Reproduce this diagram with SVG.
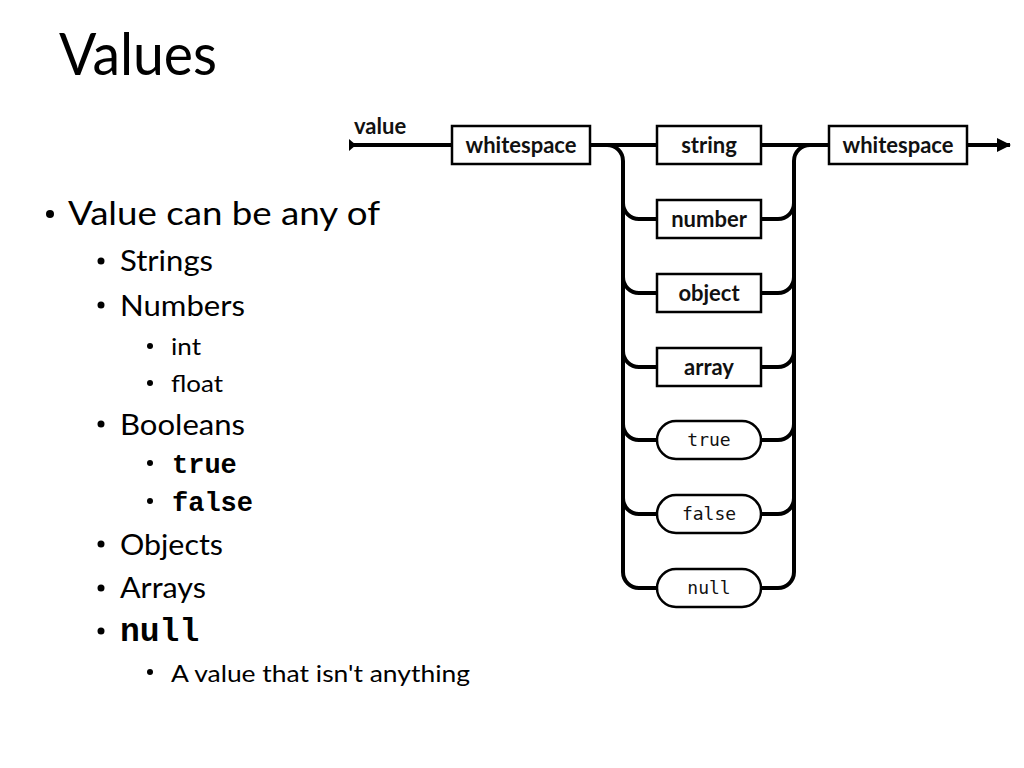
<svg xmlns="http://www.w3.org/2000/svg" width="1024" height="768" viewBox="0 0 1024 768">
<defs>
<marker id="arr" markerWidth="14" markerHeight="16" refX="13" refY="8" orient="auto" markerUnits="userSpaceOnUse">
<path d="M0,1 L14,8 L0,15 Z" fill="#000"/>
</marker>
<style>
.t{font-family:Lato,"Open Sans","Liberation Sans",sans-serif;fill:#000}
.m{font-family:"Liberation Mono","Courier New",monospace;font-weight:bold;fill:#000}
.box{fill:#fff;stroke:#000;stroke-width:2.5}
.lbl{font-family:Lato,"Open Sans",sans-serif;font-weight:bold;font-size:22px;fill:#111;text-anchor:middle}
.mono{font-family:"DejaVu Sans Mono",monospace;font-size:18px;fill:#111;text-anchor:middle}
.w{fill:none;stroke:#000;stroke-width:4}
</style>
</defs>
<rect width="1024" height="768" fill="#fff"/>
<text class="t" x="59" y="75" font-size="58" textLength="158" lengthAdjust="spacingAndGlyphs">Values</text>
<g id="bullets">
<circle cx="50" cy="214" r="4"/>
<circle cx="101" cy="261" r="3.5"/>
<circle cx="101" cy="305" r="3.5"/>
<circle cx="150" cy="346" r="3"/>
<circle cx="150" cy="383" r="3"/>
<circle cx="101" cy="424" r="3.5"/>
<circle cx="150" cy="463" r="3"/>
<circle cx="150" cy="501" r="3"/>
<circle cx="101" cy="544" r="3.5"/>
<circle cx="101" cy="588" r="3.5"/>
<circle cx="101" cy="631" r="3.5"/>
<circle cx="150" cy="672" r="3"/>
<text class="t" x="68" y="225" font-size="32" textLength="312" lengthAdjust="spacingAndGlyphs">Value can be any of</text>
<text class="t" x="120" y="271" font-size="28" textLength="93" lengthAdjust="spacingAndGlyphs">Strings</text>
<text class="t" x="120" y="316" font-size="28" textLength="125" lengthAdjust="spacingAndGlyphs">Numbers</text>
<text class="t" x="171" y="355" font-size="24" textLength="30" lengthAdjust="spacingAndGlyphs">int</text>
<text class="t" x="171" y="392" font-size="24" textLength="52" lengthAdjust="spacingAndGlyphs">float</text>
<text class="t" x="120" y="435" font-size="28" textLength="125" lengthAdjust="spacingAndGlyphs">Booleans</text>
<text class="m" x="172" y="473" font-size="27">true</text>
<text class="m" x="172" y="511" font-size="27">false</text>
<text class="t" x="120" y="555" font-size="28" textLength="103" lengthAdjust="spacingAndGlyphs">Objects</text>
<text class="t" x="120" y="598" font-size="28" textLength="86" lengthAdjust="spacingAndGlyphs">Arrays</text>
<text class="m" x="120" y="641" font-size="33">null</text>
<text class="t" x="171" y="682" font-size="24" textLength="299" lengthAdjust="spacingAndGlyphs">A value that isn't anything</text>
</g>
<g id="connectors">
<polygon points="349,139 356,145 349,151" fill="#000"/>
<path class="w" d="M350 145 H452"/>
<path class="w" d="M590 145 H657"/>
<path class="w" d="M761 145 H829"/>
<path class="w" d="M967 145 H1010" marker-end="url(#arr)"/>
<path class="w" d="M607 145 A16 16 0 0 1 623 161 V572 A16 16 0 0 0 639 588 H657"/>
<path class="w" d="M623 203 A16 16 0 0 0 639 219 H657"/>
<path class="w" d="M623 277 A16 16 0 0 0 639 293 H657"/>
<path class="w" d="M623 351 A16 16 0 0 0 639 367 H657"/>
<path class="w" d="M623 424 A16 16 0 0 0 639 440 H657"/>
<path class="w" d="M623 498 A16 16 0 0 0 639 514 H657"/>
<path class="w" d="M761 588 H778 A16 16 0 0 0 794 572 V161 A16 16 0 0 1 810 145"/>
<path class="w" d="M761 219 H778 A16 16 0 0 0 794 203"/>
<path class="w" d="M761 293 H778 A16 16 0 0 0 794 277"/>
<path class="w" d="M761 367 H778 A16 16 0 0 0 794 351"/>
<path class="w" d="M761 440 H778 A16 16 0 0 0 794 424"/>
<path class="w" d="M761 514 H778 A16 16 0 0 0 794 498"/>
</g>
<text class="lbl" x="354" y="134" style="text-anchor:start" font-size="20">value</text>
<g id="ws1"><rect class="box" x="452" y="126" width="138" height="38"/><text class="lbl" x="521" y="153">whitespace</text></g>
<g id="string"><rect class="box" x="657" y="126" width="104" height="38"/><text class="lbl" x="709" y="153">string</text></g>
<g id="number"><rect class="box" x="657" y="200" width="104" height="38"/><text class="lbl" x="709" y="227">number</text></g>
<g id="object"><rect class="box" x="657" y="274" width="104" height="38"/><text class="lbl" x="709" y="301">object</text></g>
<g id="array"><rect class="box" x="657" y="348" width="104" height="38"/><text class="lbl" x="709" y="375">array</text></g>
<g id="true"><rect class="box" x="657" y="421" width="104" height="38" rx="19"/><text class="mono" x="709" y="446">true</text></g>
<g id="false"><rect class="box" x="657" y="495" width="104" height="38" rx="19"/><text class="mono" x="709" y="520">false</text></g>
<g id="null"><rect class="box" x="657" y="569" width="104" height="38" rx="19"/><text class="mono" x="709" y="594">null</text></g>
<g id="ws2"><rect class="box" x="829" y="126" width="138" height="38"/><text class="lbl" x="898" y="153">whitespace</text></g>
</svg>
